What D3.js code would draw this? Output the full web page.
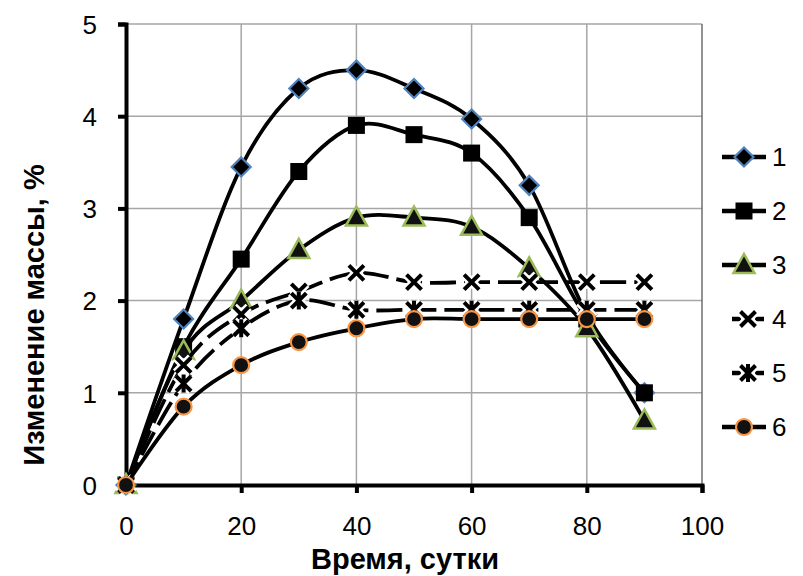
<!DOCTYPE html>
<html>
<head>
<meta charset="utf-8">
<script src="https://cdn.jsdelivr.net/npm/d3@7"></script>
<style>
  body { margin: 0; background: #fff; }
  text { font-family: "Liberation Sans", "DejaVu Sans", sans-serif; }
</style>
</head>
<body>
<div id="chart"></div>
<script>
// time, days
var days = [0, 10, 20, 30, 40, 50, 60, 70, 80, 90];

// mass change, %
var s1 = [0, 1.8, 3.45, 4.3, 4.5, 4.3, 3.97, 3.25, 1.85, 1.0];
var s2 = [0, 1.5, 2.45, 3.4, 3.9, 3.8, 3.6, 2.9, 1.8, 1.0];
var s3 = [0, 1.45, 2.0, 2.55, 2.9, 2.9, 2.8, 2.35, 1.7, 0.7];
var s4 = [0, 1.3, 1.85, 2.1, 2.3, 2.2, 2.2, 2.2, 2.2, 2.2];
var s5 = [0, 1.1, 1.7, 2.0, 1.9, 1.9, 1.9, 1.9, 1.9, 1.9];
var s6 = [0, 0.85, 1.3, 1.55, 1.7, 1.8, 1.8, 1.8, 1.8, 1.8];

var seriesNames = ["1", "2", "3", "4", "5", "6"];
var seriesValues = [s1, s2, s3, s4, s5, s6];
var seriesMarker = ["diamond", "square", "triangle", "cross", "star", "circle"];
var seriesDashed = [false, false, false, true, true, false];

var xTicks = [0, 20, 40, 60, 80, 100];
var yTicks = [0, 1, 2, 3, 4, 5];

var svgWidth = 803;
var svgHeight = 576;

var margin = { top: 24, left: 126, right: 101, bottom: 91 };
var width = svgWidth - margin.left - margin.right;
var height = svgHeight - margin.top - margin.bottom;

var svg = d3.select("#chart").append("svg")
    .attr("width", svgWidth)
    .attr("height", svgHeight);

svg.append("rect").attr("width", svgWidth).attr("height", svgHeight).attr("fill", "#fff");

var chartGroup = svg.append("g").attr("transform", `translate(${margin.left},${margin.top})`);

var xScale = d3.scaleLinear().domain([0, 100]).range([0, width]);
var yScale = d3.scaleLinear().domain([0, 5]).range([height, 0]);

// gridlines
chartGroup.append("g").selectAll("line")
    .data(yTicks.filter(d => d > 0))
    .enter().append("line")
    .attr("x1", 0).attr("x2", width)
    .attr("y1", d => yScale(d)).attr("y2", d => yScale(d))
    .attr("stroke", "#a6a6a6").attr("stroke-width", 1.5);

chartGroup.append("g").selectAll("line")
    .data(xTicks.filter(d => d > 0))
    .enter().append("line")
    .attr("y1", 0).attr("y2", height)
    .attr("x1", d => xScale(d)).attr("x2", d => xScale(d))
    .attr("stroke", d => d === 100 ? "#6e6e6e" : "#a6a6a6").attr("stroke-width", 1.5);

// axes
var xAxis = chartGroup.append("g")
    .attr("transform", `translate(0, ${height})`)
    .call(d3.axisBottom(xScale).tickValues(xTicks).tickFormat(d3.format("d")).tickSize(8).tickPadding(24));
var yAxis = chartGroup.append("g")
    .call(d3.axisLeft(yScale).tickValues(yTicks).tickFormat(d3.format("d")).tickSize(8).tickPadding(21));

[xAxis, yAxis].forEach(function(ax) {
    ax.select(".domain").attr("stroke", "#000").attr("stroke-width", 4);
    ax.selectAll(".tick line").attr("stroke", "#000").attr("stroke-width", 4);
    ax.selectAll(".tick text")
        .attr("fill", "#000")
        .style("font-size", "26px")
        .style("font-family", "'Liberation Sans', sans-serif");
});
yAxis.selectAll(".tick text").attr("dy", "0.36em");

// axis titles
svg.append("text")
    .attr("x", 405)
    .attr("y", 569)
    .attr("text-anchor", "middle")
    .style("font-size", "29px")
    .style("font-weight", "bold")
    .text("Время, сутки");

svg.append("text")
    .attr("transform", "translate(44, 315) rotate(-90)")
    .attr("text-anchor", "middle")
    .style("font-size", "29px")
    .style("font-weight", "bold")
    .text("Изменение массы, %");

// markers
function drawMarker(g, type) {
    if (type === "diamond") {
        g.append("path").attr("d", "M0,-9.5L9.5,0L0,9.5L-9.5,0Z")
            .attr("fill", "#000").attr("stroke", "#4f81bd").attr("stroke-width", 2.2);
    } else if (type === "square") {
        g.append("rect").attr("x", -8.5).attr("y", -8.5).attr("width", 17).attr("height", 17)
            .attr("fill", "#000");
    } else if (type === "triangle") {
        g.append("path").attr("d", "M0,-11L10.5,8L-10.5,8Z")
            .attr("fill", "#111").attr("stroke", "#9bbb59").attr("stroke-width", 2.5)
            .attr("stroke-linejoin", "miter");
    } else if (type === "cross" || type === "star") {
        var d = "M-7.5,-7.5L7.5,7.5M7.5,-7.5L-7.5,7.5" + (type === "star" ? "M0,-9L0,9" : "");
        g.append("path").attr("d", d).attr("stroke", "#fff").attr("stroke-width", 9).attr("fill", "none");
        g.append("path").attr("d", d).attr("stroke", "#000").attr("stroke-width", 4).attr("fill", "none");
    } else if (type === "circle") {
        g.append("circle").attr("r", 8)
            .attr("fill", "#111").attr("stroke", "#f79646").attr("stroke-width", 2.2);
    }
}

var line = d3.line()
    .x((d, i) => xScale(days[i]))
    .y(d => yScale(d))
    .curve(d3.curveCardinal.tension(0));

seriesValues.forEach(function(vals, k) {
    chartGroup.append("path")
        .attr("d", line(vals))
        .attr("fill", "none")
        .attr("stroke", "#000")
        .attr("stroke-width", 3.8)
        .attr("stroke-dasharray", seriesDashed[k] ? "26,8" : null);

    vals.forEach(function(v, i) {
        var g = chartGroup.append("g")
            .attr("transform", `translate(${xScale(days[i])},${yScale(v)})`);
        drawMarker(g, seriesMarker[k]);
    });
});

// legend
var legend = svg.append("g").attr("transform", "translate(722, 157)");
seriesNames.forEach(function(name, k) {
    var item = legend.append("g").attr("transform", `translate(0, ${k * 54})`);
    if (seriesDashed[k]) {
        item.append("line").attr("x1", 10).attr("x2", 19).attr("y1", 0).attr("y2", 0)
            .attr("stroke", "#000").attr("stroke-width", 4.5);
        item.append("line").attr("x1", 33).attr("x2", 42).attr("y1", 0).attr("y2", 0)
            .attr("stroke", "#000").attr("stroke-width", 4.5);
    } else {
        item.append("line").attr("x1", 0).attr("x2", 44).attr("y1", 0).attr("y2", 0)
            .attr("stroke", "#000").attr("stroke-width", 4.5);
    }
    var m = item.append("g").attr("transform", `translate(${seriesDashed[k] ? 26 : 22},0)`);
    drawMarker(m, seriesMarker[k]);
    item.append("text")
        .attr("x", 50).attr("y", 0).attr("dy", "0.36em")
        .style("font-size", "26px")
        .text(name);
});
</script>
</body>
</html>
